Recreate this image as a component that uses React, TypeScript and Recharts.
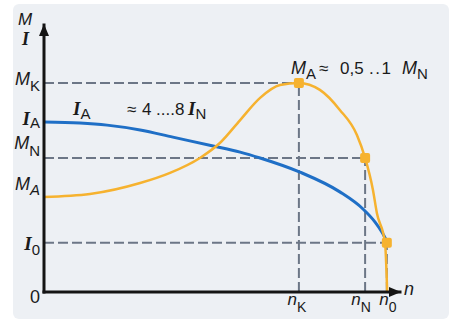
import React from 'react';
import { ComposedChart, Line, Scatter, XAxis, YAxis, ReferenceLine, ReferenceDot } from 'recharts';

const BLUE = '#1f6fc6';
const ORANGE = '#f6b22f';
const GRID = '#6c7686';
const AXIS = '#141414';
const PANEL = '#edf0f4';
const SANS = '"Liberation Sans", Arial, sans-serif';
const SERIF = '"Liberation Serif", "Times New Roman", serif';

// characteristic speeds (x) and torque / current levels (y)
const nK = 71.6;
const nN = 90.2;
const n0 = 96.3;
const MK = 78.3;
const IA = 63.7;
const MN = 50.2;
const MA = 35.6;
const I0 = 18.4;

// current curve I(n)
const currentSpeed = [0, 10.1, 17.7, 27, 36.2, 47.5, 55.1, 60.7, 71.9, 83.1, 89.6, 93, 94.9, 96.3];
const currentValue = [63.7, 63.3, 62.5, 60.7, 58, 54.7, 52.4, 50.2, 44.9, 37.5, 31.1, 26.2, 22.5, 19.1];

// torque curve M(n)
const torqueSpeed = [0, 12.9, 27, 35.4, 43.8, 49.4, 55.1, 60.7, 66.3, 71.6, 77.5, 83.1, 87.9, 90.2, 92.4, 93.5, 95.8, 96.4];
const torqueValue = [35.6, 36.7, 40.8, 44.6, 50.2, 55.8, 64.4, 72.7, 77.5, 78.3, 75.7, 68.2, 58.8, 50.2, 38.2, 29.6, 18.4, 0];

// marked operating points
const markerSpeed = [nK, nN, n0];
const markerValue = [MK, MN, I0];

// tick labels
const yTickValues = [0, I0, MA, MN, IA, MK];
const yTickMain = ['0', 'I', 'M', 'M', 'I', 'M'];
const yTickSub = ['', '0', 'A', 'N', 'A', 'K'];
const xTickValues = [nK, nN, n0];
const xTickSub = ['K', 'N', '0'];

const currentData = currentSpeed.map((x, i) => ({ x, y: currentValue[i] }));
const torqueData = torqueSpeed.map((x, i) => ({ x, y: torqueValue[i] }));
const markerData = markerSpeed.map((x, i) => ({ x, y: markerValue[i] }));

const yOffsets = [11, 7, -7, -9, 3, 2];
const ySubDy = [0, 5, 5, 7, 3, 6];

const mainStyle = (ch: string) =>
  ch === 'I'
    ? { fontFamily: SERIF, fontStyle: 'italic', fontWeight: 700, fontSize: 19 }
    : ch === 'M'
    ? { fontFamily: SANS, fontStyle: 'italic', fontSize: 18 }
    : { fontFamily: SANS, fontSize: 18 };

const YTick = (props: any) => {
  const { x, y, payload } = props;
  const i = yTickValues.indexOf(payload.value);
  if (i < 0) return null;
  const m = yTickMain[i];
  const s = yTickSub[i];
  return (
    <text x={x - 4} y={y + yOffsets[i]} textAnchor="end" fill="#1a1a1a">
      <tspan {...(mainStyle(m) as any)}>{m}</tspan>
      {s && (
        <tspan dy={ySubDy[i]} fontFamily={SANS} fontSize={15} fontStyle={i === 2 ? 'italic' : 'normal'}>
          {s}
        </tspan>
      )}
    </text>
  );
};

const xShift = [-2, -4, 1];
const XTick = (props: any) => {
  const { x, y, payload } = props;
  const i = xTickValues.indexOf(payload.value);
  if (i < 0) return null;
  return (
    <text x={x + xShift[i]} y={y + 13} textAnchor="middle" fill="#1a1a1a">
      <tspan fontFamily={SANS} fontStyle="italic" fontSize={17}>n</tspan>
      <tspan dy={7} fontFamily={SANS} fontSize={14}>{xTickSub[i]}</tspan>
    </text>
  );
};

const ArrowRight = (p: any) => (
  <polygon points={`${p.cx + 1},${p.cy} ${p.cx - 11},${p.cy - 5} ${p.cx - 11},${p.cy + 5}`} fill={AXIS} />
);
const ArrowUp = (p: any) => (
  <polygon points={`${p.cx},${p.cy - 1} ${p.cx - 5},${p.cy + 11} ${p.cx + 5},${p.cy + 11}`} fill={AXIS} />
);
const Square = (p: any) => (
  <rect x={p.cx - 5} y={p.cy - 5} width={10} height={10} rx={2} fill={ORANGE} />
);

const dash = { stroke: GRID, strokeWidth: 2, strokeDasharray: '10 4' };

export default function App() {
  return (
    <div style={{ position: 'absolute', left: 0, top: 0, width: 464, height: 330, background: '#fff' }}>
      <div
        style={{
          position: 'absolute',
          left: 13,
          top: 4,
          width: 436,
          height: 315,
          background: PANEL,
          borderRadius: 6,
        }}
      />
      <div style={{ position: 'absolute', left: 0, top: 0 }}>
        <ComposedChart width={464} height={330} margin={{ top: 25, right: 64, left: 14, bottom: 0 }}>
          <XAxis
            type="number"
            dataKey="x"
            domain={[0, 100]}
            ticks={xTickValues}
            tick={<XTick />}
            tickLine={false}
            tickSize={0}
            tickMargin={0}
            height={38}
            axisLine={{ stroke: AXIS, strokeWidth: 3, strokeLinecap: 'square' }}
            interval={0}
          />
          <YAxis
            type="number"
            dataKey="y"
            domain={[0, 100]}
            ticks={yTickValues}
            tick={<YTick />}
            tickLine={false}
            tickSize={0}
            tickMargin={0}
            width={30}
            axisLine={{ stroke: AXIS, strokeWidth: 3, strokeLinecap: 'square' }}
            interval={0}
          />
          <ReferenceLine segment={[{ x: 0, y: MK }, { x: nK, y: MK }]} {...dash} />
          <ReferenceLine segment={[{ x: 0, y: MN }, { x: nN, y: MN }]} {...dash} />
          <ReferenceLine segment={[{ x: 0, y: I0 }, { x: n0, y: I0 }]} {...dash} />
          <ReferenceLine segment={[{ x: nK, y: 0 }, { x: nK, y: MK }]} {...dash} />
          <ReferenceLine segment={[{ x: nN, y: 0 }, { x: nN, y: MN }]} {...dash} />
          <ReferenceLine segment={[{ x: n0, y: 0 }, { x: n0, y: I0 }]} {...dash} />
          <Line
            data={currentData}
            dataKey="y"
            type="monotone"
            stroke={BLUE}
            strokeWidth={3}
            dot={false}
            isAnimationActive={false}
          />
          <Line
            data={torqueData}
            dataKey="y"
            type="monotone"
            stroke={ORANGE}
            strokeWidth={2.5}
            dot={false}
            isAnimationActive={false}
          />
          <Scatter data={markerData} dataKey="y" shape={<Square />} isAnimationActive={false} />
          <ReferenceDot x={100} y={0} r={0} shape={<ArrowRight />} ifOverflow="visible" />
          <ReferenceDot x={0} y={100} r={0} shape={<ArrowUp />} ifOverflow="visible" />
        </ComposedChart>
      </div>
      <svg width={464} height={330} style={{ position: 'absolute', left: 0, top: 0, pointerEvents: 'none' }}>
        <text x={18} y={25} fontFamily={SANS} fontStyle="italic" fontSize={17} fill="#1a1a1a">M</text>
        <text x={22} y={45} fontFamily={SERIF} fontStyle="italic" fontWeight={700} fontSize={18} fill="#1a1a1a">I</text>
        <text x={404} y={295} fontFamily={SANS} fontStyle="italic" fontSize={18} fill="#1a1a1a">n</text>
        <text y={115} fill="#1a1a1a" fontFamily={SANS} fontSize={17}>
          <tspan x={73} fontFamily={SERIF} fontStyle="italic" fontWeight={700} fontSize={19}>I</tspan>
          <tspan dy={4} fontSize={15}>A</tspan>
          <tspan x={127} dy={-4}>≈</tspan>
          <tspan x={142}>4</tspan>
          <tspan x={156} letterSpacing={0}>....</tspan>
          <tspan x={175}>8</tspan>
          <tspan x={188} fontFamily={SERIF} fontStyle="italic" fontWeight={700} fontSize={19}>I</tspan>
          <tspan dy={4} fontSize={15}>N</tspan>
        </text>
        <text y={74} fill="#1a1a1a" fontFamily={SANS} fontSize={17}>
          <tspan x={291} fontStyle="italic" fontSize={18}>M</tspan>
          <tspan dy={5} fontSize={15}>A</tspan>
          <tspan x={319} dy={-5}>≈</tspan>
          <tspan x={340}>0,5</tspan>
          <tspan x={369} letterSpacing={1.5}>..1</tspan>
          <tspan x={402} fontStyle="italic" fontSize={18}>M</tspan>
          <tspan dy={5} fontSize={15}>N</tspan>
        </text>
      </svg>
    </div>
  );
}
